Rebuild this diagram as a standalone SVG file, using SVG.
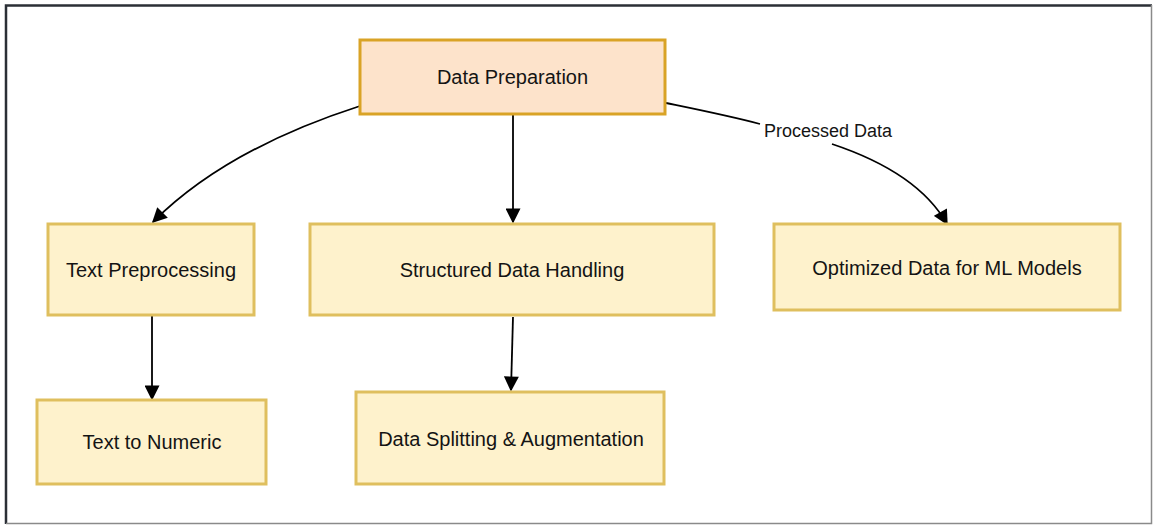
<svg xmlns="http://www.w3.org/2000/svg" width="1153" height="525" viewBox="0 0 1153 525">
  <style>
    .node rect { fill: #fef2cc; stroke: #dfbf5e; stroke-width: 3; }
    #data-preparation rect { fill: #fde3cb; stroke: #d9a326; }
    .node text { font-family: "Liberation Sans", Arial, sans-serif; font-size: 20px; fill: #141414; text-anchor: middle; dominant-baseline: central; }
    .edge { fill: none; stroke: #000; stroke-width: 1.8; }
    .arrowed { marker-end: url(#arrow); }
    .edge-label { font-family: "Liberation Sans", Arial, sans-serif; font-size: 18px; fill: #141414; text-anchor: middle; dominant-baseline: central; }
  </style>
  <defs>
    <marker id="arrow" viewBox="0 0 10 10" refX="9" refY="5" markerWidth="16" markerHeight="15" markerUnits="userSpaceOnUse" orient="auto">
      <path d="M0,0 L10,5 L0,10 z" fill="#000"/>
    </marker>
  </defs>

  <!-- page frame -->
  <rect x="0" y="0" width="1153" height="525" fill="#ffffff"/>
  <path d="M6,524 L6,5.5 L1152,5.5" fill="none" stroke="#2b2f36" stroke-width="2.5"/>
  <path d="M1151.5,5 L1151.5,523.5 L6,523.5" fill="none" stroke="#8a8a8a" stroke-width="1.5"/>

  <!-- connectors -->
  <g id="connectors">
    <path class="edge arrowed" d="M360,106 C270,135 200,175 153,222"/>
    <path class="edge arrowed" d="M513,115 L513,222"/>
    <path class="edge" d="M666,103 C695,109 730,116 760,124"/>
    <path class="edge arrowed" d="M832,144 C880,160 925,185 947,224"/>
    <path class="edge arrowed" d="M152,316 L152,399"/>
    <path class="edge arrowed" d="M513,317 L511,390"/>
    <text class="edge-label" x="828" y="131">Processed Data</text>
  </g>

  <g id="data-preparation" class="node">
    <rect x="360" y="40" width="305" height="74"/>
    <text x="512.5" y="77">Data Preparation</text>
  </g>
  <g id="text-preprocessing" class="node">
    <rect x="48" y="224" width="206" height="91"/>
    <text x="151" y="270">Text Preprocessing</text>
  </g>
  <g id="structured-data-handling" class="node">
    <rect x="310" y="224" width="404" height="91"/>
    <text x="512" y="270">Structured Data Handling</text>
  </g>
  <g id="optimized-data" class="node">
    <rect x="774" y="224" width="346" height="86"/>
    <text x="947" y="268">Optimized Data for ML Models</text>
  </g>
  <g id="text-to-numeric" class="node">
    <rect x="37" y="400" width="229" height="84"/>
    <text x="152" y="442">Text to Numeric</text>
  </g>
  <g id="data-splitting" class="node">
    <rect x="356" y="392" width="308" height="92"/>
    <text x="511" y="439">Data Splitting &amp; Augmentation</text>
  </g>
</svg>
